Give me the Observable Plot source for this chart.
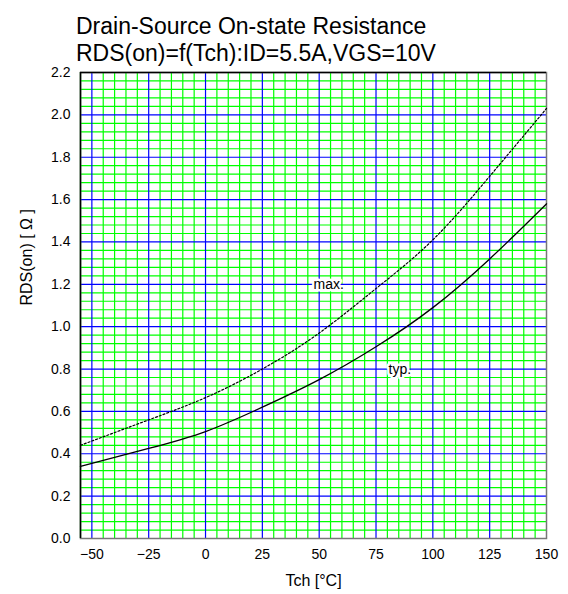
<!DOCTYPE html>
<html>
<head>
<meta charset="utf-8">
<script src="https://cdn.jsdelivr.net/npm/d3@7"></script>
<script src="https://cdn.jsdelivr.net/npm/@observablehq/plot@0.6"></script>
<style>
  body { margin: 0; background: #fff; font-family: "Liberation Sans", Arial, sans-serif; }
  #title { box-sizing: border-box; height: 64px; padding: 13px 0 0 76px; font-size: 23px; line-height: 27px; color: #000; white-space: nowrap; }
</style>
</head>
<body>
<div id="title">Drain-Source On-state Resistance<br>RDS(on)=f(Tch):ID=5.5A,VGS=10V</div>
<div id="chart"></div>
<script>
const temps = [-55, -25, 0, 25, 50, 75, 100, 125, 150];
const typValues = [0.34, 0.425, 0.505, 0.62, 0.75, 0.905, 1.09, 1.32, 1.58];
const maxValues = [0.44, 0.56, 0.665, 0.80, 0.97, 1.18, 1.41, 1.71, 2.03];
const xTicks = [-50, -25, 0, 25, 50, 75, 100, 125, 150];
const yTicks = [0, 0.2, 0.4, 0.6, 0.8, 1.0, 1.2, 1.4, 1.6, 1.8, 2.0, 2.2];
const curveLabels = [
  {t: 47.5, r: 1.2, text: "max."},
  {t: 80.5, r: 0.8, text: "typ."}
];
const xLabel = "Tch [\u00B0C]";
const yLabel = "RDS(on) [ \u03A9 ]";

const typData = temps.map((t, i) => ({t, r: typValues[i]}));
const maxData = temps.map((t, i) => ({t, r: maxValues[i]}));
const xMinor = d3.range(-55, 150, 5).filter(v => Math.abs(v % 25) !== 0);
const yMinor = d3.range(1, 55).filter(k => k % 5 !== 0).map(k => k * 0.04);

const font = "'Liberation Sans', Arial, sans-serif";
const chart = Plot.plot({
  width: 568,
  height: 530,
  marginTop: 8,
  marginBottom: 56,
  marginLeft: 80,
  marginRight: 22,
  style: {fontFamily: font, fontSize: "14px", color: "#000", background: "#fff"},
  x: {domain: [-55, 150]},
  y: {domain: [0, 2.2]},
  marks: [
    Plot.ruleX(xMinor, {stroke: "#00ff00", strokeWidth: 1.2}),
    Plot.ruleY(yMinor, {stroke: "#00ff00", strokeWidth: 1.2}),
    Plot.ruleX(xTicks.slice(0, -1), {stroke: "#0000ff", strokeWidth: 1.2}),
    Plot.ruleY(yTicks.slice(1, -1), {stroke: "#0000ff", strokeWidth: 1.2}),
    Plot.frame({stroke: "#777", strokeWidth: 1.5}),
    Plot.ruleX([-55], {stroke: "#000", strokeWidth: 1.5}),
    Plot.ruleY([2.2], {stroke: "#000", strokeWidth: 1.5}),
    Plot.line(maxData, {x: "t", y: "r", curve: "natural", stroke: "#000", strokeWidth: 1.2, strokeDasharray: "2,2"}),
    Plot.line(typData, {x: "t", y: "r", curve: "natural", stroke: "#000", strokeWidth: 1.3}),
    Plot.text(curveLabels, {x: "t", y: "r", text: "text", textAnchor: "start", fontSize: 14, fill: "#000", stroke: "#fff", strokeWidth: 5}),
    Plot.axisX({ticks: xTicks, tickSize: 0, tickPadding: 11, label: null, fontSize: 14}),
    Plot.axisY({ticks: yTicks, tickSize: 0, tickPadding: 10, tickFormat: d3.format(".1f"), label: null, fontSize: 14}),
    Plot.text([xLabel], {frameAnchor: "bottom", dy: 42, lineAnchor: "middle", fontSize: 16}),
    Plot.text([yLabel], {frameAnchor: "left", dx: -54, rotate: -90, lineAnchor: "middle", fontSize: 16})
  ]
});
document.getElementById("chart").appendChild(chart);
</script>
</body>
</html>
